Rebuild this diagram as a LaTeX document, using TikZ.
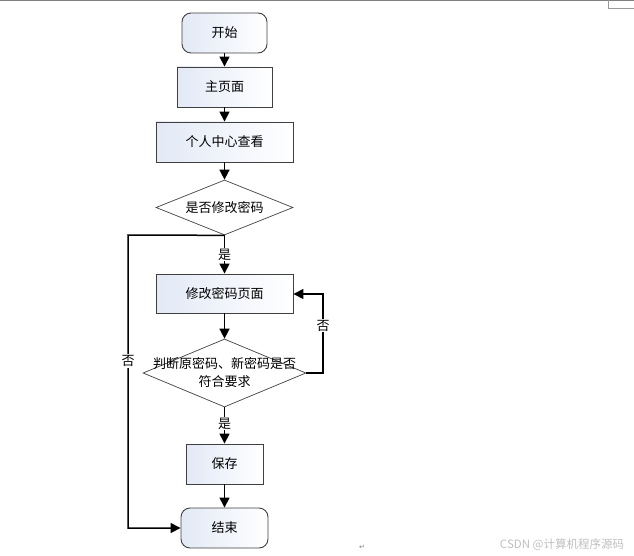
\documentclass[tikz,border=0pt]{standalone}
\usepackage{fontspec}
\setmainfont{Noto Sans CJK SC}
\newfontfamily\dejavu{DejaVu Sans}
\usetikzlibrary{shapes.geometric,arrows.meta}
\definecolor{boxblue}{HTML}{E2E9F6}
\definecolor{edgegray}{HTML}{404040}
\begin{document}
\begin{tikzpicture}[x=1pt,y=-1pt,
  font=\fontsize{13pt}{16pt}\selectfont,
  procbox/.style={draw=edgegray,line width=0.9pt,left color=boxblue,right color=white,minimum height=40pt,inner sep=0pt},
  termbox/.style={procbox,rounded corners=9pt},
  decision/.style={diamond,draw=edgegray,line width=0.7pt,fill=white,inner sep=0pt},
  flow/.style={line width=1.5pt,-{Triangle[width=10pt,length=10pt]}},
  lbl/.style={fill=white,inner sep=1pt}]
\useasboundingbox (0,0) rectangle (634,556);
\draw[gray,line width=1pt] (0,0.5) -- (634,0.5);
\draw[gray!80,line width=0.6pt] (608,0) -- (608,8) -- (634,8);
\node[termbox,minimum width=85pt] (start) at (224.5,33) {开始};
\node[procbox,minimum width=95pt] (main) at (224.5,87) {主页面};
\node[procbox,minimum width=137pt] (center) at (224.5,142) {个人中心查看};
\node[decision,minimum width=137pt,minimum height=55pt,label={center:是否修改密码}] (d1) at (224.5,207.5) {};
\node[procbox,minimum width=137pt,minimum height=39pt] (edit) at (224.5,293.5) {修改密码页面};
\node[decision,minimum width=163pt,minimum height=68pt,label={[align=center,font=\fontsize{13pt}{18pt}\selectfont]center:判断原密码、新密码是否\\符合要求}] (d2) at (224.5,373) {};
\node[procbox,minimum width=77pt] (save) at (224.5,464) {保存};
\node[termbox,minimum width=87pt] (end) at (224.5,528) {结束};
\coordinate (lt) at (128,235);
\coordinate (lb) at (128,528);
\coordinate (rb) at (323,373);
\coordinate (rt) at (323,294);
\draw[flow] (start) -- (main);
\draw[flow] (main) -- (center);
\draw[flow] (center) -- (d1);
\draw[flow] (d1) -- node[lbl,pos=0.5]{是} (edit);
\draw[flow] (edit) -- (d2);
\draw[flow] (d2) -- node[lbl,pos=0.45]{是} (save);
\draw[flow] (save) -- (end);
\draw[flow] (d1.south) -- (lt) -- node[lbl,pos=0.43]{否} (lb) -- (end.west);
\draw[flow] (d2.east) -- (rb) -- node[lbl,pos=0.6]{否} (rt) -- (edit.east |- rt);
\node[text=gray!50,font=\fontsize{11.5pt}{13pt}\selectfont] (wm) at (562,545) {CSDN @计算机程序源码};
\node[text=gray,font=\dejavu\fontsize{7pt}{8pt}\selectfont] (ret) at (362,547) {↵};
\end{tikzpicture}
\end{document}
